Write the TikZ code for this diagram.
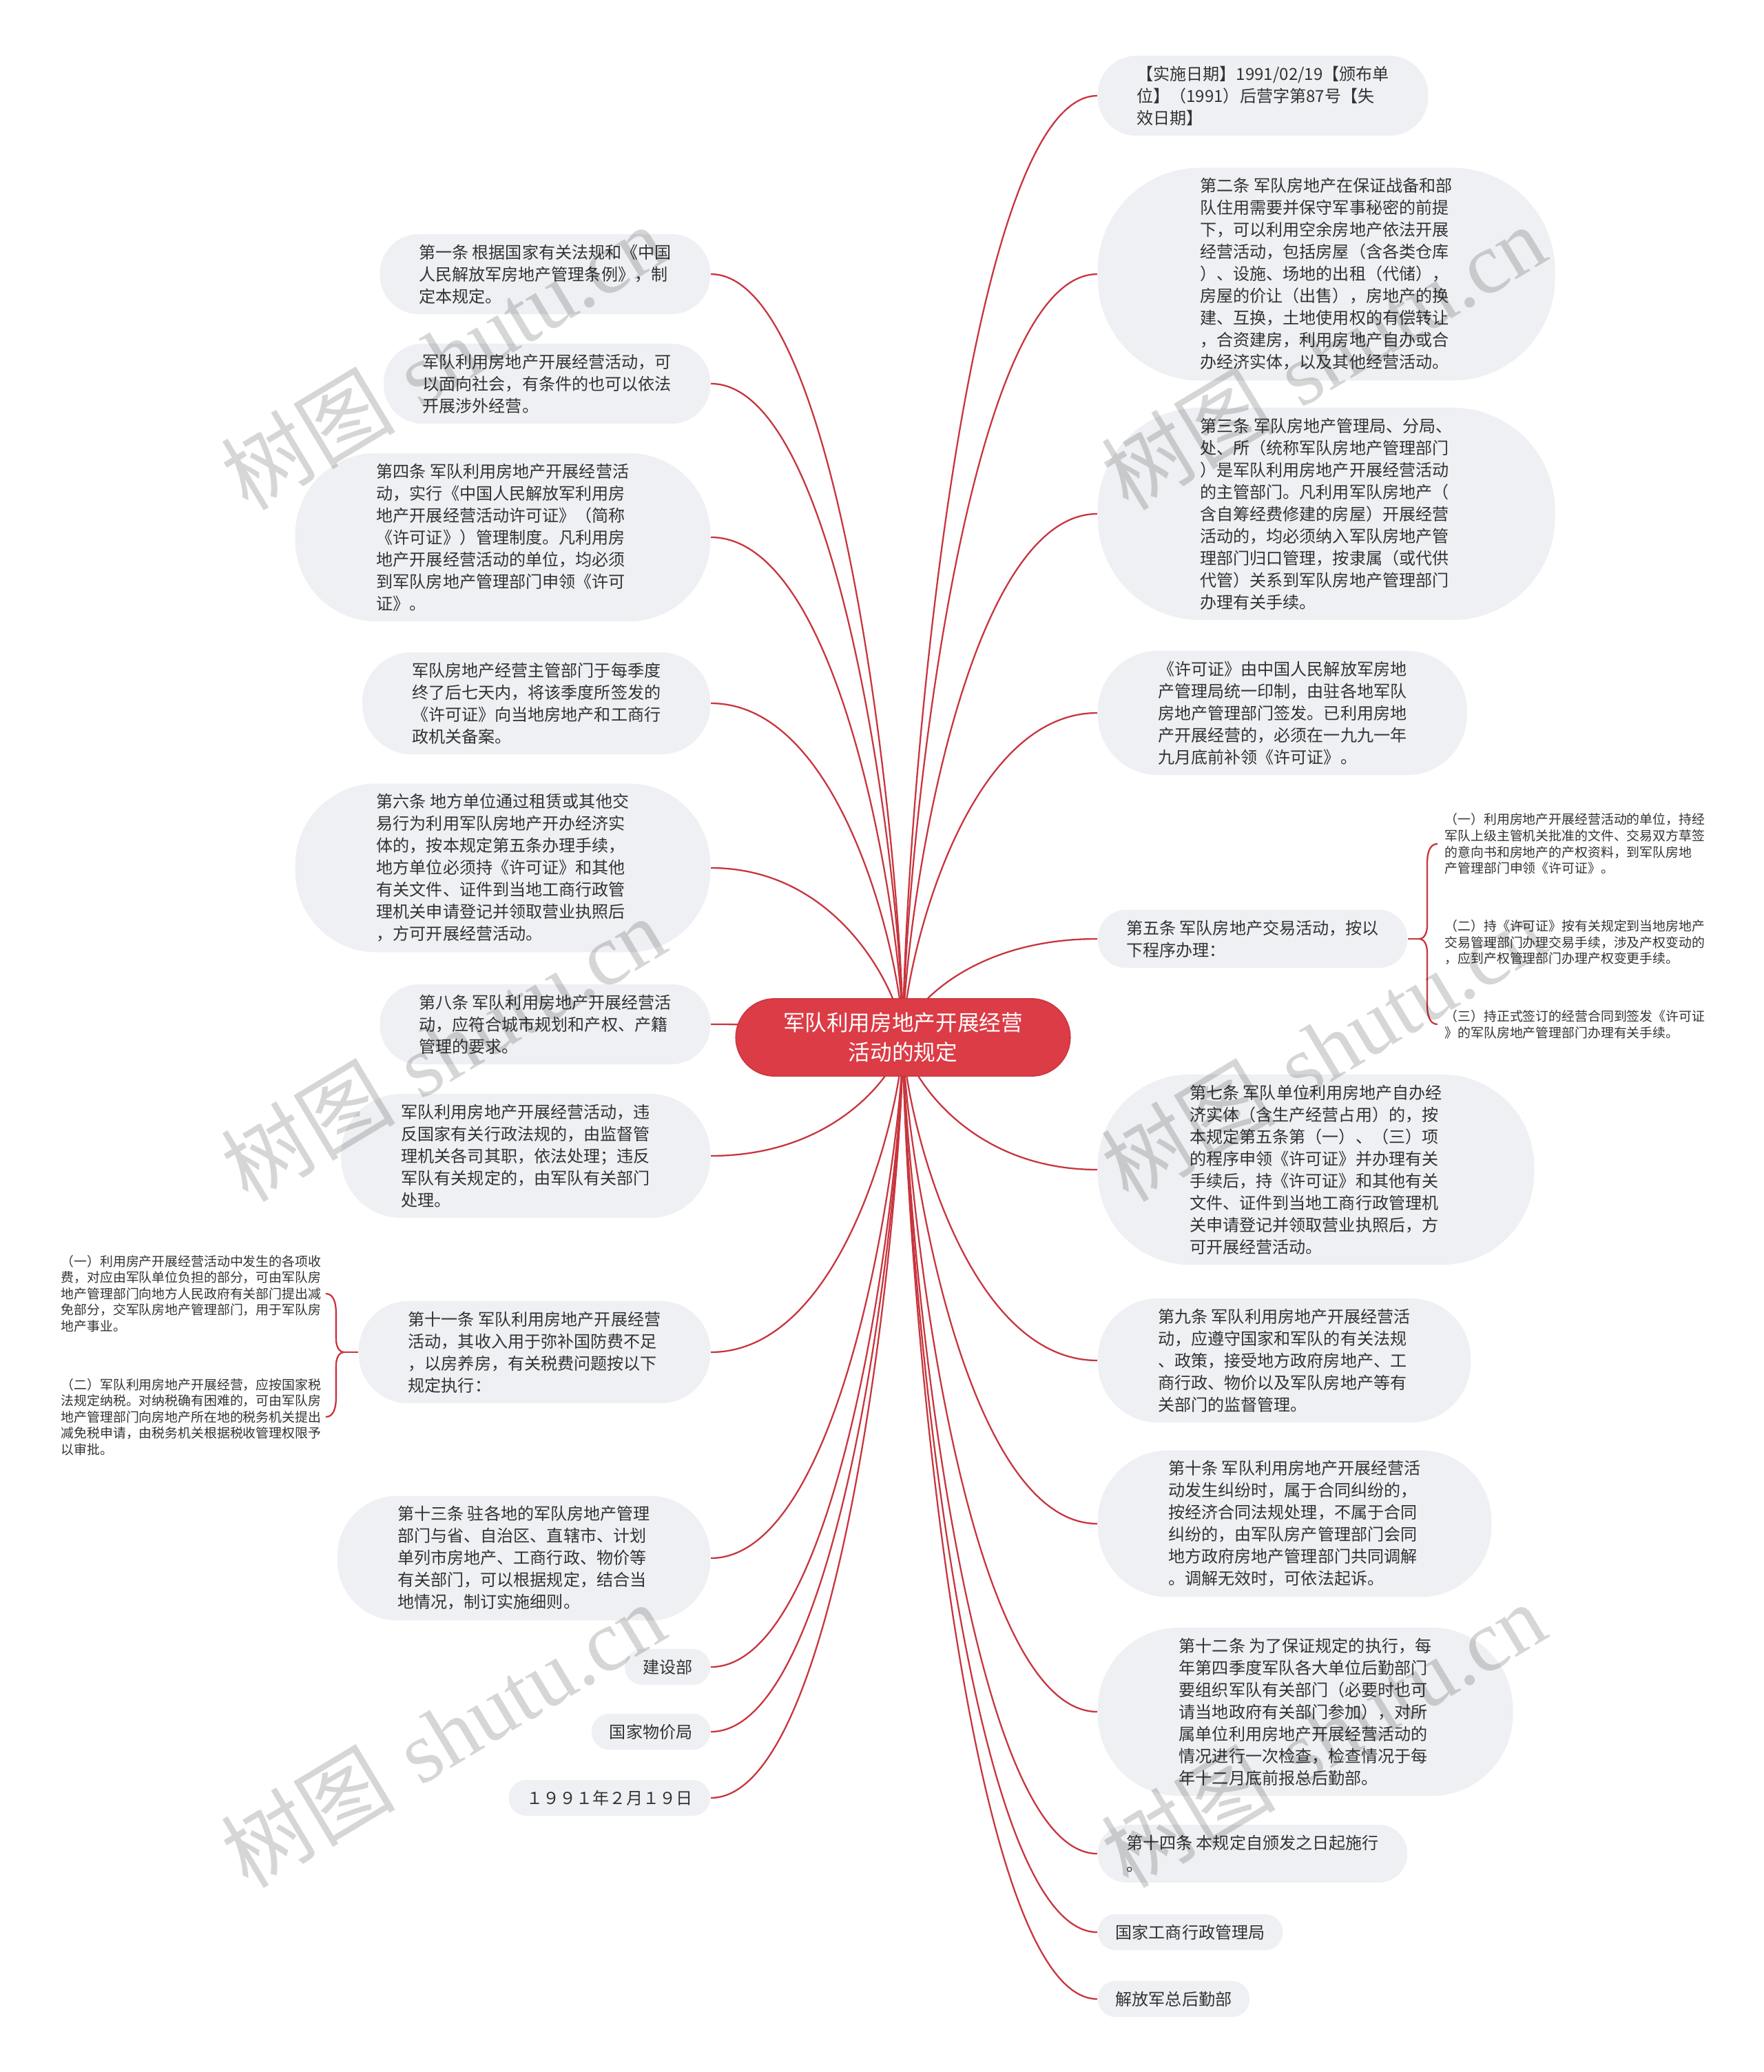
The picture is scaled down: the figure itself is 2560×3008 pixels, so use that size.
\documentclass[tikz,border=0pt]{standalone}
\usepackage{fontspec}
\usepackage{xcolor}
\usepackage{tikz}
\usetikzlibrary{calc,backgrounds}
\newfontfamily\cjk{Noto Sans CJK SC}
\newfontfamily\wmlatin{Liberation Serif}
\definecolor{leafgray}{HTML}{EEF0F3}
\definecolor{inkgray}{HTML}{333333}
\definecolor{linkred}{HTML}{C8353E}
\definecolor{rootred}{HTML}{DC3C46}

\begin{document}
\begin{tikzpicture}[x=0.1mm, y=-0.1mm,
  root/.style={rectangle, rounded corners=16pt, fill=rootred, draw=linkred, line width=0.4pt, text=white,
    font=\cjk\fontsize{9pt}{12.3pt}\selectfont, align=center, inner xsep=19.6pt, inner ysep=2mm},
  leaf/.style={rectangle, rounded corners=#1, inner xsep=#1, fill=leafgray, text=inkgray,
    font=\cjk\fontsize{6.85pt}{9.1pt}\selectfont, align=left, inner ysep=1.5mm},
  note/.style={text=inkgray, font=\cjk\fontsize{5.37pt}{6.7pt}\selectfont, align=left, inner sep=0pt},
  link/.style={draw=linkred, line width=0.65pt},
  wmark/.style={text=black, text opacity=0.16, rotate=31, font=\fontsize{36pt}{36pt}\selectfont}]
\useasboundingbox (0,0) rectangle (2560,3008);

% centre
\node[root] (root) at (1311,1506) {军队利用房地产开展经营\\活动的规定};

% right side
\node[leaf=16.1pt, anchor=west] (r1) at (1593,139) {【实施日期】1991/02/19【颁布单\\位】（1991）后营字第87号【失\\效日期】};
\node[leaf=42.3pt, anchor=west] (r2) at (1593,398) {第二条 军队房地产在保证战备和部\\队住用需要并保守军事秘密的前提\\下，可以利用空余房地产依法开展\\经营活动，包括房屋（含各类仓库\\）、设施、场地的出租（代储），\\房屋的价让（出售），房地产的换\\建、互换，土地使用权的有偿转让\\，合资建房，利用房地产自办或合\\办经济实体，以及其他经营活动。};
\node[leaf=42.3pt, anchor=west] (r3) at (1593,746) {第三条 军队房地产管理局、分局、\\处、所（统称军队房地产管理部门\\）是军队利用房地产开展经营活动\\的主管部门。凡利用军队房地产（\\含自筹经费修建的房屋）开展经营\\活动的，均必须纳入军队房地产管\\理部门归口管理，按隶属（或代供\\代管）关系到军队房地产管理部门\\办理有关手续。};
\node[leaf=24.9pt, anchor=west] (r4) at (1593,1035) {《许可证》由中国人民解放军房地\\产管理局统一印制，由驻各地军队\\房地产管理部门签发。已利用房地\\产开展经营的，必须在一九九一年\\九月底前补领《许可证》。};
\node[leaf=11.8pt, anchor=west] (r5) at (1593,1363) {第五条 军队房地产交易活动，按以\\下程序办理：};
\node[leaf=38pt, anchor=west] (r6) at (1593,1698) {第七条 军队单位利用房地产自办经\\济实体（含生产经营占用）的，按\\本规定第五条第（一）、（三）项\\的程序申领《许可证》并办理有关\\手续后，持《许可证》和其他有关\\文件、证件到当地工商行政管理机\\关申请登记并领取营业执照后，方\\可开展经营活动。};
\node[leaf=24.9pt, anchor=west] (r7) at (1593,1975) {第九条 军队利用房地产开展经营活\\动，应遵守国家和军队的有关法规\\、政策，接受地方政府房地产、工\\商行政、物价以及军队房地产等有\\关部门的监督管理。};
\node[leaf=29.2pt, anchor=west] (r8) at (1593,2212) {第十条 军队利用房地产开展经营活\\动发生纠纷时，属于合同纠纷的，\\按经济合同法规处理，不属于合同\\纠纷的，由军队房产管理部门会同\\地方政府房地产管理部门共同调解\\。调解无效时，可依法起诉。};
\node[leaf=33.6pt, anchor=west] (r9) at (1593,2485) {第十二条 为了保证规定的执行，每\\年第四季度军队各大单位后勤部门\\要组织军队有关部门（必要时也可\\请当地政府有关部门参加），对所\\属单位利用房地产开展经营活动的\\情况进行一次检查，检查情况于每\\年十二月底前报总后勤部。};
\node[leaf=11.8pt, anchor=west] (r10) at (1593,2691) {第十四条 本规定自颁发之日起施行\\。};
\node[leaf=7.4pt, anchor=west] (r11) at (1593,2805) {国家工商行政管理局};
\node[leaf=7.4pt, anchor=west] (r12) at (1593,2902) {解放军总后勤部};

% items of article 5
\node[note, anchor=west] (s51) at (2097,1225) {（一）利用房地产开展经营活动的单位，持经\\军队上级主管机关批准的文件、交易双方草签\\的意向书和房地产的产权资料，到军队房地\\产管理部门申领《许可证》。};
\node[note, anchor=west] (s52) at (2097,1368) {（二）持《许可证》按有关规定到当地房地产\\交易管理部门办理交易手续，涉及产权变动的\\，应到产权管理部门办理产权变更手续。};
\node[note, anchor=west] (s53) at (2097,1487) {（三）持正式签订的经营合同到签发《许可证\\》的军队房地产管理部门办理有关手续。};

% left side
\node[leaf=16.1pt, anchor=east] (l1) at (1032,398) {第一条 根据国家有关法规和《中国\\人民解放军房地产管理条例》，制\\定本规定。};
\node[leaf=16.1pt, anchor=east] (l2) at (1032,557) {军队利用房地产开展经营活动，可\\以面向社会，有条件的也可以依法\\开展涉外经营。};
\node[leaf=33.6pt, anchor=east] (l3) at (1032,780) {第四条 军队利用房地产开展经营活\\动，实行《中国人民解放军利用房\\地产开展经营活动许可证》（简称\\《许可证》）管理制度。凡利用房\\地产开展经营活动的单位，均必须\\到军队房地产管理部门申领《许可\\证》。};
\node[leaf=20.5pt, anchor=east] (l4) at (1032,1021) {军队房地产经营主管部门于每季度\\终了后七天内，将该季度所签发的\\《许可证》向当地房地产和工商行\\政机关备案。};
\node[leaf=33.6pt, anchor=east] (l5) at (1032,1260) {第六条 地方单位通过租赁或其他交\\易行为利用军队房地产开办经济实\\体的，按本规定第五条办理手续，\\地方单位必须持《许可证》和其他\\有关文件、证件到当地工商行政管\\理机关申请登记并领取营业执照后\\，方可开展经营活动。};
\node[leaf=16.1pt, anchor=east] (l6) at (1032,1487) {第八条 军队利用房地产开展经营活\\动，应符合城市规划和产权、产籍\\管理的要求。};
\node[leaf=24.9pt, anchor=east] (l7) at (1032,1678) {军队利用房地产开展经营活动，违\\反国家有关行政法规的，由监督管\\理机关各司其职，依法处理；违反\\军队有关规定的，由军队有关部门\\处理。};
\node[leaf=20.5pt, anchor=east] (l8) at (1032,1963) {第十一条 军队利用房地产开展经营\\活动，其收入用于弥补国防费不足\\，以房养房，有关税费问题按以下\\规定执行：};
\node[leaf=24.9pt, anchor=east] (l9) at (1032,2262) {第十三条 驻各地的军队房地产管理\\部门与省、自治区、直辖市、计划\\单列市房地产、工商行政、物价等\\有关部门，可以根据规定，结合当\\地情况，制订实施细则。};
\node[leaf=7.4pt, anchor=east] (l10) at (1032,2420) {建设部};
\node[leaf=7.4pt, anchor=east] (l11) at (1032,2514) {国家物价局};
\node[leaf=7.4pt, anchor=east] (l12) at (1032,2610) {１９９１年２月１９日};

% items of article 11
\node[note, anchor=west] (s81) at (88,1878) {（一）利用房产开展经营活动中发生的各项收\\费，对应由军队单位负担的部分，可由军队房\\地产管理部门向地方人民政府有关部门提出减\\免部分，交军队房地产管理部门，用于军队房\\地产事业。};
\node[note, anchor=west] (s82) at (88,2057) {（二）军队利用房地产开展经营，应按国家税\\法规定纳税。对纳税确有困难的，可由军队房\\地产管理部门向房地产所在地的税务机关提出\\减免税申请，由税务机关根据税收管理权限予\\以审批。};

% links
\begin{scope}[on background layer]
\fill[white] (0,0) rectangle (2560,3008);
\foreach \n in {r1,r2,r3,r4,r5,r6,r7,r8,r9,r10,r11,r12}
  \draw[link] (root.center) .. controls ($(root.center)!0.2!(root.center |- \n.west)$) and ($(\n.west)!0.7!(root.center |- \n.west)$) .. (\n.west);
\foreach \n in {l1,l2,l3,l4,l5,l6,l7,l8,l9,l10,l11,l12}
  \draw[link] (root.center) .. controls ($(root.center)!0.2!(root.center |- \n.east)$) and ($(\n.east)!0.7!(root.center |- \n.east)$) .. (\n.east);
\end{scope}

% braces
\coordinate (t5) at ($(s51.west |- r5.east)+(-3.7mm,0)$);
\draw[link] (r5.east) -- (t5);
\draw[link] ($(t5 |- s51.west)+(2.7mm,0)$) to[out=180,in=90] ($(t5 |- s51.west)+(1.2mm,-2.8mm)$)
  -- ($(t5)+(1.2mm,2mm)$) to[out=270,in=0] (t5) to[out=0,in=90] ($(t5)+(1.2mm,-2mm)$)
  -- ($(t5 |- s53.west)+(1.2mm,2.8mm)$) to[out=270,in=180] ($(t5 |- s53.west)+(2.7mm,0)$);
\coordinate (t8) at ($(s81.east |- l8.west)+(3.3mm,0)$);
\draw[link] (l8.west) -- (t8);
\draw[link] ($(t8 |- s81.east)+(-2.7mm,0)$) to[out=0,in=90] ($(t8 |- s81.east)+(-1.2mm,-2.8mm)$)
  -- ($(t8)+(-1.2mm,2mm)$) to[out=270,in=180] (t8) to[out=180,in=90] ($(t8)+(-1.2mm,-2mm)$)
  -- ($(t8 |- s82.east)+(-1.2mm,2.8mm)$) to[out=270,in=0] ($(t8 |- s82.east)+(-2.7mm,0)$);

% watermarks
\foreach \wx in {643,1921}
  \foreach \wy in {518,1522,2518}
    \node[wmark] at (\wx,\wy) {{\cjk 树图} {\wmlatin shutu.cn}};
\end{tikzpicture}
\end{document}
